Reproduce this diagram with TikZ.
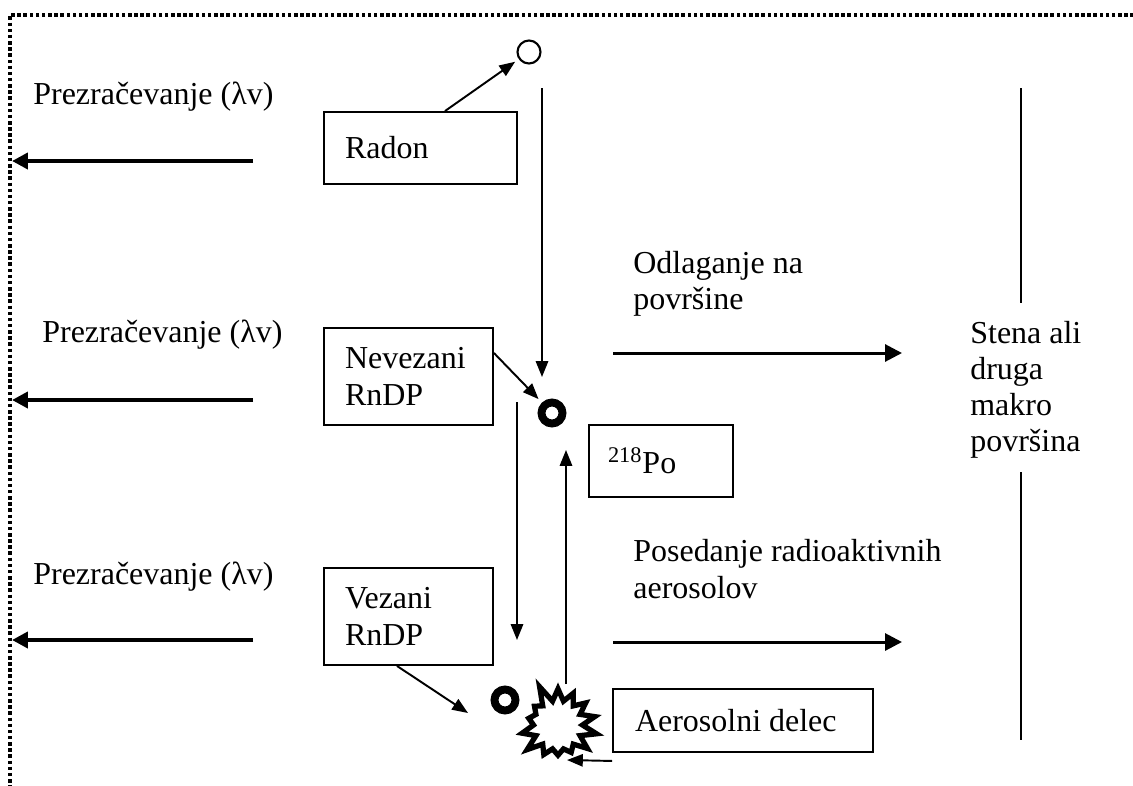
\documentclass[tikz,border=0pt]{standalone}
\usepackage{fontspec}
\setmainfont{Liberation Serif}
\usetikzlibrary{arrows.meta, shapes.symbols}

\begin{document}
\begin{tikzpicture}[x=0.02cm, y=-0.02cm,
    font=\fontsize{18.2}{20.6}\selectfont,
    box/.style={draw, line width=1.1pt, align=flush left, inner ysep=0pt},
    lbl/.style={anchor=west, align=flush left, inner sep=0pt},
    thinarrow/.style={line width=1.1pt, -{Triangle[length=9pt, width=7pt]}},
    flowarrow/.style={line width=1.7pt, -{Triangle[length=9.6pt, width=9.6pt]}},
    ventarrow/.style={line width=2.3pt, -{Triangle[length=9pt, width=9pt]}},
    freeatom/.style={circle, draw, line width=1.2pt, minimum size=0.46cm, inner sep=0pt},
    boundatom/.style={circle, draw, line width=4.5pt, minimum size=0.42cm, inner sep=0pt},
    wall/.style={line width=1.1pt}]
  \useasboundingbox (0,0) rectangle (1133,785);
  % room border
  \draw[line width=2pt, dash pattern=on 2pt off 1.5pt] (1140,15) -- (10,15) -- (10,790);

  % ventilation on the left
  \foreach \ya/\yl/\xl [count=\i] in {161/97/33, 400/335/42, 640/577/33} {
    \node[lbl] (vent\i) at (\xl,\yl) {Prezračevanje (λv)};
    \coordinate (vs\i) at (253,\ya);
    \coordinate (ve\i) at (12,\ya);
    \draw[ventarrow] (vs\i) -- (ve\i);
  }

  % boxes
  \node[box, minimum width=3.86cm, minimum height=1.44cm, inner xsep=0.42cm, text width=3.02cm]
    (radon) at (420.5,148) {Radon};
  \node[box, minimum width=3.38cm, minimum height=1.94cm, inner xsep=0.42cm, text width=2.54cm]
    (free) at (408.5,376.5) {Nevezani\\RnDP};
  \node[box, minimum width=3.38cm, minimum height=1.94cm, inner xsep=0.42cm, text width=2.54cm]
    (bound) at (408.5,616.5) {Vezani\\RnDP};
  \node[box, minimum width=2.88cm, minimum height=1.44cm, inner xsep=0.38cm, text width=2.12cm]
    (po) at (661,461) {\textsuperscript{218}Po};
  \node[box, minimum width=5.2cm, minimum height=1.26cm, inner xsep=0.44cm, text width=4.32cm]
    (aerosol) at (743,720.5) {Aerosolni delec};

  % atoms and the aerosol particle
  \node[freeatom] (rnatom) at (529,52) {};
  \node[boundatom] (poatom) at (552,413) {};
  \node[boundatom] (attatom) at (505,700) {};
  \node[starburst, draw, fill=white, line width=3pt, minimum width=1.74cm, minimum height=1.74cm,
    starburst points=14, starburst point height=0.38cm, random starburst=5]
    (particle) at (558,725) {};

  % labels on the right
  \node[lbl] (depo) at (633,284) {Odlaganje na\\površine};
  \node[lbl] (settle) at (633,569) {Posedanje radioaktivnih\\aerosolov};
  \node[lbl] (surface) at (970,390) {Stena ali\\druga\\makro\\površina};

  % wall
  \coordinate (w1) at (1021,88);
  \coordinate (w2) at (1021,303);
  \coordinate (w3) at (1021,472);
  \coordinate (w4) at (1021,740);
  \draw[wall] (w1) -- (w2);
  \draw[wall] (w3) -- (w4);

  % flows to the wall
  \coordinate (ds) at (613,353);
  \coordinate (de) at (902,353);
  \coordinate (ss) at (613,642);
  \coordinate (se) at (902,642);
  \draw[flowarrow] (ds) -- (de);
  \draw[flowarrow] (ss) -- (se);

  % decay and attachment
  \coordinate (decs) at (542,88);
  \coordinate (dece) at (542,377);
  \coordinate (atts) at (517,402);
  \coordinate (atte) at (517,640);
  \coordinate (recs) at (566,684);
  \coordinate (rece) at (566,450);
  \coordinate (bnde) at (468,713);
  \coordinate (aers) at ([yshift=-0.16cm]aerosol.south west);
  \coordinate (aere) at (567,760);
  \draw[thinarrow, shorten >=2.5pt] ([xshift=0.49cm]radon.north) -- (rnatom);
  \draw[thinarrow] (decs) -- (dece);
  \draw[thinarrow, shorten >=2.8pt] ([yshift=0.47cm]free.east) -- (poatom);
  \draw[thinarrow] (atts) -- (atte);
  \draw[thinarrow] (recs) -- (rece);
  \draw[thinarrow] ([xshift=-0.23cm]bound.south) -- (bnde);
  \draw[thinarrow] (aers) -- (aere);
\end{tikzpicture}
\end{document}
